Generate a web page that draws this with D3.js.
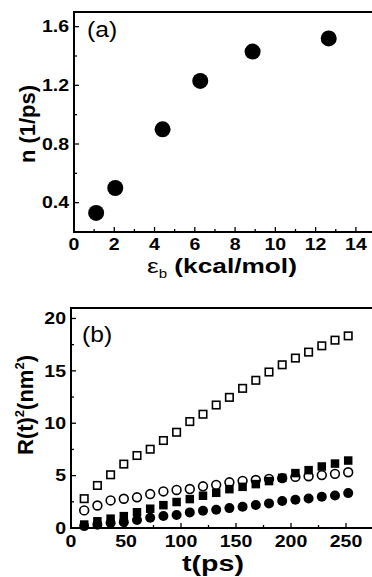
<!DOCTYPE html>
<html>
<head>
<meta charset="utf-8">
<script src="https://cdn.jsdelivr.net/npm/d3@7.9.0/dist/d3.min.js"></script>
<style>
  body { margin: 0; background: #fff; }
  svg { display: block; }
  text { font-family: "Liberation Sans", Arial, sans-serif; fill: #000; }
</style>
</head>
<body>
<svg id="chart" width="372" height="577"></svg>
<script>
// panel (a): rate vs binding energy
const epsB = [1.1, 2.05, 4.4, 6.27, 8.87, 12.65];
const rate = [0.33, 0.50, 0.90, 1.23, 1.43, 1.52];
const xTicksA = [0, 2, 4, 6, 8, 10, 12, 14];
const yTicksA = [0.4, 0.8, 1.2, 1.6];

// panel (b): R(t)^2 vs time
const time = [12, 24, 36, 48, 60, 72, 84, 96, 108, 120, 132, 144, 156, 168, 180, 192, 204, 216, 228, 240, 252];
const openSquare = [2.8, 4.06, 5.08, 6.1, 6.92, 7.52, 8.35, 9.14, 10.16, 10.86, 11.74, 12.47, 13.33, 14.1, 14.89, 15.58, 16.22, 16.79, 17.39, 17.93, 18.34];
const openCircle = [1.68, 2.15, 2.63, 2.79, 2.93, 3.24, 3.49, 3.63, 3.72, 3.98, 4.12, 4.36, 4.5, 4.58, 4.68, 4.76, 4.88, 4.94, 5.05, 5.17, 5.32];
const filledSquare = [0.33, 0.64, 0.89, 1.13, 1.5, 1.84, 2.18, 2.48, 2.76, 3.08, 3.36, 3.71, 3.93, 4.19, 4.48, 4.79, 5.24, 5.52, 5.87, 6.15, 6.44];
const filledCircle = [0.18, 0.32, 0.47, 0.56, 0.76, 0.98, 1.14, 1.24, 1.49, 1.65, 1.74, 1.9, 2.03, 2.19, 2.35, 2.57, 2.7, 2.82, 2.98, 3.1, 3.33];
const xTicksB = [0, 50, 100, 150, 200, 250];
const yTicksB = [0, 5, 10, 15, 20];

const svg = d3.select('#chart');

// horizontal text in the source looks a bit stretched sideways
function label(g, x, y, str, size, opts = {}) {
  return g.append('text')
    .attr('transform', `translate(${x},${y}) scale(${opts.sx || 1.22},1)`)
    .attr('text-anchor', opts.anchor || 'start')
    .attr('dy', opts.dy || null)
    .attr('font-size', size)
    .attr('font-weight', opts.bold === false ? 'normal' : 'bold')
    .text(str);
}

function drawFrame(g, x, y, xMajor, xMinor, yMajor, yMinor, xLabelDy) {
  let [x0, x1] = x.range();
  let [y0, y1] = y.range();

  // top + left + bottom lines (right side runs off the picture)
  g.append('path')
    .attr('d', `M${x1 + 4},${y1}H${x0}V${y0}H${x1 + 4}`)
    .attr('fill', 'none')
    .attr('stroke', '#000')
    .attr('stroke-width', 2);

  xMinor.forEach((v) => {
    let major = xMajor.includes(v);
    g.append('line')
      .attr('x1', x(v)).attr('x2', x(v))
      .attr('y1', y0).attr('y2', y0 - (major ? 5 : 3))
      .attr('stroke', '#000').attr('stroke-width', 1.3);
  });
  yMinor.forEach((v) => {
    let major = yMajor.includes(v);
    g.append('line')
      .attr('x1', x0).attr('x2', x0 + (major ? 5 : 3))
      .attr('y1', y(v)).attr('y2', y(v))
      .attr('stroke', '#000').attr('stroke-width', 1.3);
  });

  xMajor.forEach((v) => label(g, x(v), y0 + xLabelDy, v, 16, { anchor: 'middle' }));
  yMajor.forEach((v) => {
    let s = v % 1 !== 0 ? v.toFixed(1) : String(v);
    label(g, x0 - 5, y(v), s, 16, { anchor: 'end', dy: '0.36em' });
  });
}

// ---- panel (a)
let xA = d3.scaleLinear().domain([0, 14.8]).range([74, 372]);
let yA = d3.scaleLinear().domain([0.2, 1.7]).range([232, 12]);
let gA = svg.append('g');

drawFrame(gA, xA, yA, xTicksA, d3.range(0, 15, 1), yTicksA,
  [0.4, 0.6, 0.8, 1.0, 1.2, 1.4, 1.6], 18);

gA.selectAll('circle.pt')
  .data(epsB.map((e, i) => ({ e, n: rate[i] })))
  .join('circle')
  .attr('class', 'pt')
  .attr('cx', (d) => xA(d.e))
  .attr('cy', (d) => yA(d.n))
  .attr('r', 8)
  .attr('fill', '#000');

label(gA, 87, 37, '(a)', 22, { bold: false, sx: 1.12 });

let xt = gA.append('text')
  .attr('transform', 'translate(147,273) scale(1.25,1)')
  .attr('font-size', 21);
xt.append('tspan').text('ε');
xt.append('tspan').attr('font-size', 12).attr('dy', 5).text('b');
xt.append('tspan').attr('font-weight', 'bold').attr('dy', -5).text(' (kcal/mol)');

gA.append('text')
  .attr('transform', 'translate(35,124) rotate(-90)')
  .attr('text-anchor', 'middle')
  .attr('font-size', 22).attr('font-weight', 'bold')
  .text('n (1/ps)');

// ---- panel (b)
let xB = d3.scaleLinear().domain([0, 275]).range([71, 373.5]);
let yB = d3.scaleLinear().domain([0, 21]).range([528, 308]);
let gB = svg.append('g');

drawFrame(gB, xB, yB, xTicksB, d3.range(0, 275, 25), yTicksB,
  d3.range(0, 21, 2.5), 19);

function squares(vals, size, filled) {
  gB.append('g').selectAll('rect')
    .data(time.map((t, i) => ({ t, v: vals[i] })))
    .join('rect')
    .attr('x', (d) => xB(d.t) - size / 2)
    .attr('y', (d) => yB(d.v) - size / 2)
    .attr('width', size).attr('height', size)
    .attr('fill', filled ? '#000' : '#fff')
    .attr('stroke', '#000')
    .attr('stroke-width', filled ? 0 : 1.6);
}

function circles(vals, r, filled) {
  gB.append('g').selectAll('circle')
    .data(time.map((t, i) => ({ t, v: vals[i] })))
    .join('circle')
    .attr('cx', (d) => xB(d.t))
    .attr('cy', (d) => yB(d.v))
    .attr('r', r)
    .attr('fill', filled ? '#000' : '#fff')
    .attr('stroke', '#000')
    .attr('stroke-width', filled ? 0 : 1.6);
}

squares(openSquare, 7.5, false);
circles(openCircle, 4.4, false);
squares(filledSquare, 8.5, true);
circles(filledCircle, 5, true);

label(gB, 82, 342, '(b)', 22, { bold: false, sx: 1.12 });
label(gB, 213, 571, 't(ps)', 22, { anchor: 'middle', sx: 1.3 });

let yt = gB.append('text')
  .attr('transform', 'translate(33,405) rotate(-90)')
  .attr('text-anchor', 'middle')
  .attr('font-size', 22).attr('font-weight', 'bold');
yt.append('tspan').text('R(t)');
yt.append('tspan').attr('font-size', 13).attr('dy', -9).text('2');
yt.append('tspan').attr('dy', 9).text('(nm');
yt.append('tspan').attr('font-size', 13).attr('dy', -9).text('2');
yt.append('tspan').attr('dy', 9).text(')');
</script>
</body>
</html>
